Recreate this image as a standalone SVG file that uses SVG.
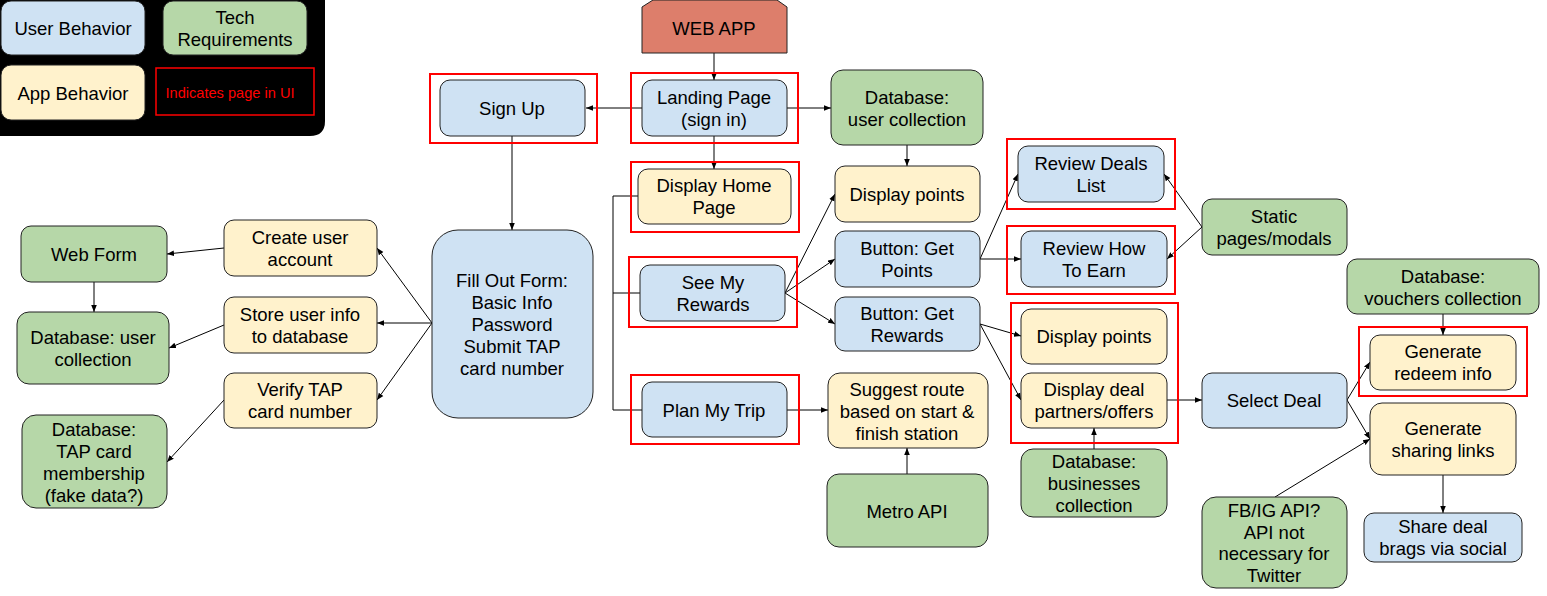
<svg xmlns="http://www.w3.org/2000/svg" width="1547" height="596" viewBox="0 0 1547 596">
<defs>
<marker id="ah" viewBox="0 0 10 10" refX="10" refY="5" markerWidth="7" markerHeight="7" markerUnits="userSpaceOnUse" orient="auto">
<path d="M0,1 L10,5 L0,9 z" fill="#000"/>
</marker>
<style>
text{font-family:"Liberation Sans",Arial,sans-serif;font-size:18.5px;fill:#000;text-anchor:middle}
.b{fill:#cfe2f3;stroke:#222;stroke-width:1}
.g{fill:#b6d7a8;stroke:#222;stroke-width:1}
.y{fill:#fff2cc;stroke:#222;stroke-width:1}
.r{fill:none;stroke:#ff0000;stroke-width:2}
.c path{fill:none;stroke:#000;stroke-width:1}
.c .a{marker-end:url(#ah)}
</style>
</defs>
<rect width="1547" height="596" fill="#fff"/>

<g id="legend">
<path d="M0,0 H325 V121 Q325,136 310,136 H0 Z" fill="#000"/>
<rect class="b" x="1" y="1" width="144" height="54" rx="10"/>
<text x="73" y="34.5">User Behavior</text>
<rect class="g" x="163" y="1" width="144" height="54" rx="10"/>
<text x="235" y="23.5">Tech</text>
<text x="235" y="45.5">Requirements</text>
<rect class="y" x="1" y="65" width="144" height="55" rx="10"/>
<text x="73" y="99.5">App Behavior</text>
<rect x="156" y="68" width="158" height="47" fill="none" stroke="#ff0000" stroke-width="1.5"/>
<text x="230" y="98" style="font-size:14.6px;fill:#ff0000">Indicates page in UI</text>
</g>

<g class="c" id="connectors">
<path class="a" d="M714,53 V80"/>
<path class="a" d="M642,108 H586"/>
<path class="a" d="M787,108 H831"/>
<path class="a" d="M714,136 V169"/>
<path class="a" d="M907,145 V166"/>
<path class="a" d="M512,136 V230"/>
<path d="M638,196 H613 V410 H642"/>
<path d="M613,293 H640"/>
<path class="a" d="M785,293 L835,194"/>
<path class="a" d="M785,293 L835,259"/>
<path class="a" d="M785,293 L835,324"/>
<path class="a" d="M787,410 H828"/>
<path class="a" d="M907,474 V448"/>
<path class="a" d="M980,259 L1018,174"/>
<path class="a" d="M980,259 H1021"/>
<path class="a" d="M980,324 L1021,336"/>
<path class="a" d="M980,324 L1021,400"/>
<path class="a" d="M1202,227 L1164,174"/>
<path class="a" d="M1202,227 L1167,259"/>
<path class="a" d="M1167,400 H1202"/>
<path class="a" d="M1094,449 V428"/>
<path class="a" d="M1347,400 L1370,362"/>
<path class="a" d="M1347,400 L1370,439"/>
<path class="a" d="M1275,497 L1370,439"/>
<path class="a" d="M1443,314 V335"/>
<path class="a" d="M1443,475 V513"/>
<path class="a" d="M432,323 L377,248"/>
<path class="a" d="M432,323 H377"/>
<path class="a" d="M432,323 L377,400"/>
<path class="a" d="M224,248 L167,254"/>
<path class="a" d="M94,282 V312"/>
<path class="a" d="M224,325 L169,348"/>
<path class="a" d="M224,400 L167,462"/>
</g>

<g id="webapp">
<path d="M642,7 L653,0 H777 L787,7 V53 H642 Z" fill="#dd7e6b" stroke="#222" stroke-width="1"/>
<text x="714" y="34.5">WEB APP</text>
</g>

<g id="signup">
<rect class="r" x="430" y="74" width="167" height="69"/>
<rect class="b" x="440" y="80" width="145" height="56" rx="10"/>
<text x="512" y="114.5">Sign Up</text>
</g>

<g id="landing">
<rect class="r" x="631" y="73" width="167" height="70"/>
<rect class="b" x="642" y="80" width="145" height="56" rx="10"/>
<text x="714" y="104">Landing Page</text>
<text x="714" y="126">(sign in)</text>
</g>

<g id="db-user-top">
<rect class="g" x="831" y="70" width="152" height="75" rx="12"/>
<text x="907" y="104">Database:</text>
<text x="907" y="126">user collection</text>
</g>

<g id="home">
<rect class="r" x="631" y="162" width="168" height="70"/>
<rect class="y" x="638" y="169" width="153" height="55" rx="10"/>
<text x="714" y="192">Display Home</text>
<text x="714" y="214">Page</text>
</g>

<g id="rewards">
<rect class="r" x="629" y="257" width="168" height="70"/>
<rect class="b" x="640" y="265" width="145" height="56" rx="10"/>
<text x="713" y="289">See My</text>
<text x="713" y="311">Rewards</text>
</g>

<g id="trip">
<rect class="r" x="631" y="375" width="168" height="69"/>
<rect class="b" x="642" y="382" width="145" height="55" rx="10"/>
<text x="714" y="417">Plan My Trip</text>
</g>

<g id="points1">
<rect class="y" x="835" y="166" width="145" height="56" rx="10"/>
<text x="907" y="201">Display points</text>
</g>

<g id="getpoints">
<rect class="b" x="835" y="231" width="145" height="56" rx="10"/>
<text x="907" y="255">Button: Get</text>
<text x="907" y="277">Points</text>
</g>

<g id="getrewards">
<rect class="b" x="835" y="297" width="145" height="54" rx="10"/>
<text x="907" y="320">Button: Get</text>
<text x="907" y="342">Rewards</text>
</g>

<g id="route">
<rect class="y" x="828" y="373" width="160" height="75" rx="12"/>
<text x="907" y="396">Suggest route</text>
<text x="907" y="418">based on start &amp;</text>
<text x="907" y="440">finish station</text>
</g>

<g id="metro">
<rect class="g" x="827" y="474" width="161" height="73" rx="12"/>
<text x="907" y="518">Metro API</text>
</g>

<g id="deals-list">
<rect class="r" x="1007" y="139" width="168" height="70"/>
<rect class="b" x="1018" y="146" width="146" height="56" rx="10"/>
<text x="1091" y="170">Review Deals</text>
<text x="1091" y="192">List</text>
</g>

<g id="how-earn">
<rect class="r" x="1007" y="226" width="168" height="68"/>
<rect class="b" x="1021" y="231" width="146" height="56" rx="10"/>
<text x="1094" y="255">Review How</text>
<text x="1094" y="277">To Earn</text>
</g>

<g id="static">
<rect class="g" x="1202" y="199" width="145" height="56" rx="10"/>
<text x="1274" y="223">Static</text>
<text x="1274" y="245">pages/modals</text>
</g>

<g id="display-deals">
<rect class="r" x="1011" y="303" width="167" height="140"/>
<rect class="y" x="1021" y="309" width="146" height="55" rx="10"/>
<text x="1094" y="343">Display points</text>
<rect class="y" x="1021" y="373" width="146" height="55" rx="10"/>
<text x="1094" y="396">Display deal</text>
<text x="1094" y="418">partners/offers</text>
</g>

<g id="select">
<rect class="b" x="1202" y="373" width="145" height="55" rx="10"/>
<text x="1274" y="407">Select Deal</text>
</g>

<g id="db-biz">
<rect class="g" x="1021" y="449" width="146" height="68" rx="12"/>
<text x="1094" y="468">Database:</text>
<text x="1094" y="490">businesses</text>
<text x="1094" y="512">collection</text>
</g>

<g id="db-vouchers">
<rect class="g" x="1347" y="259" width="192" height="55" rx="10"/>
<text x="1443" y="283">Database:</text>
<text x="1443" y="305">vouchers collection</text>
</g>

<g id="redeem">
<rect class="r" x="1359" y="327" width="168" height="69"/>
<rect class="y" x="1370" y="335" width="146" height="55" rx="10"/>
<text x="1443" y="358">Generate</text>
<text x="1443" y="380">redeem info</text>
</g>

<g id="sharing">
<rect class="y" x="1370" y="403" width="146" height="72" rx="12"/>
<text x="1443" y="435">Generate</text>
<text x="1443" y="457">sharing links</text>
</g>

<g id="share">
<rect class="b" x="1364" y="513" width="158" height="49" rx="10"/>
<text x="1443" y="533">Share deal</text>
<text x="1443" y="555">brags via social</text>
</g>

<g id="fbig">
<rect class="g" x="1202" y="497" width="145" height="91" rx="14"/>
<text x="1274" y="517">FB/IG API?</text>
<text x="1274" y="538.5">API not</text>
<text x="1274" y="560">necessary for</text>
<text x="1274" y="581.5">Twitter</text>
</g>

<g id="form">
<rect class="b" x="432" y="230" width="161" height="188" rx="26"/>
<text x="512" y="287">Fill Out Form:</text>
<text x="512" y="309">Basic Info</text>
<text x="512" y="331">Password</text>
<text x="512" y="353">Submit TAP</text>
<text x="512" y="375">card number</text>
</g>

<g id="create">
<rect class="y" x="224" y="220" width="153" height="56" rx="10"/>
<text x="300" y="244">Create user</text>
<text x="300" y="266">account</text>
</g>

<g id="store">
<rect class="y" x="224" y="297" width="153" height="56" rx="10"/>
<text x="300" y="321">Store user info</text>
<text x="300" y="343">to database</text>
</g>

<g id="verify">
<rect class="y" x="224" y="373" width="153" height="55" rx="10"/>
<text x="300" y="396">Verify TAP</text>
<text x="300" y="418">card number</text>
</g>

<g id="webform">
<rect class="g" x="21" y="226" width="146" height="56" rx="10"/>
<text x="94" y="261">Web Form</text>
</g>

<g id="db-user-left">
<rect class="g" x="17" y="312" width="152" height="72" rx="12"/>
<text x="93" y="344">Database: user</text>
<text x="93" y="366">collection</text>
</g>

<g id="db-tap">
<rect class="g" x="22" y="415" width="145" height="93" rx="14"/>
<text x="94" y="436">Database:</text>
<text x="94" y="458">TAP card</text>
<text x="94" y="480">membership</text>
<text x="94" y="502">(fake data?)</text>
</g>
</svg>
